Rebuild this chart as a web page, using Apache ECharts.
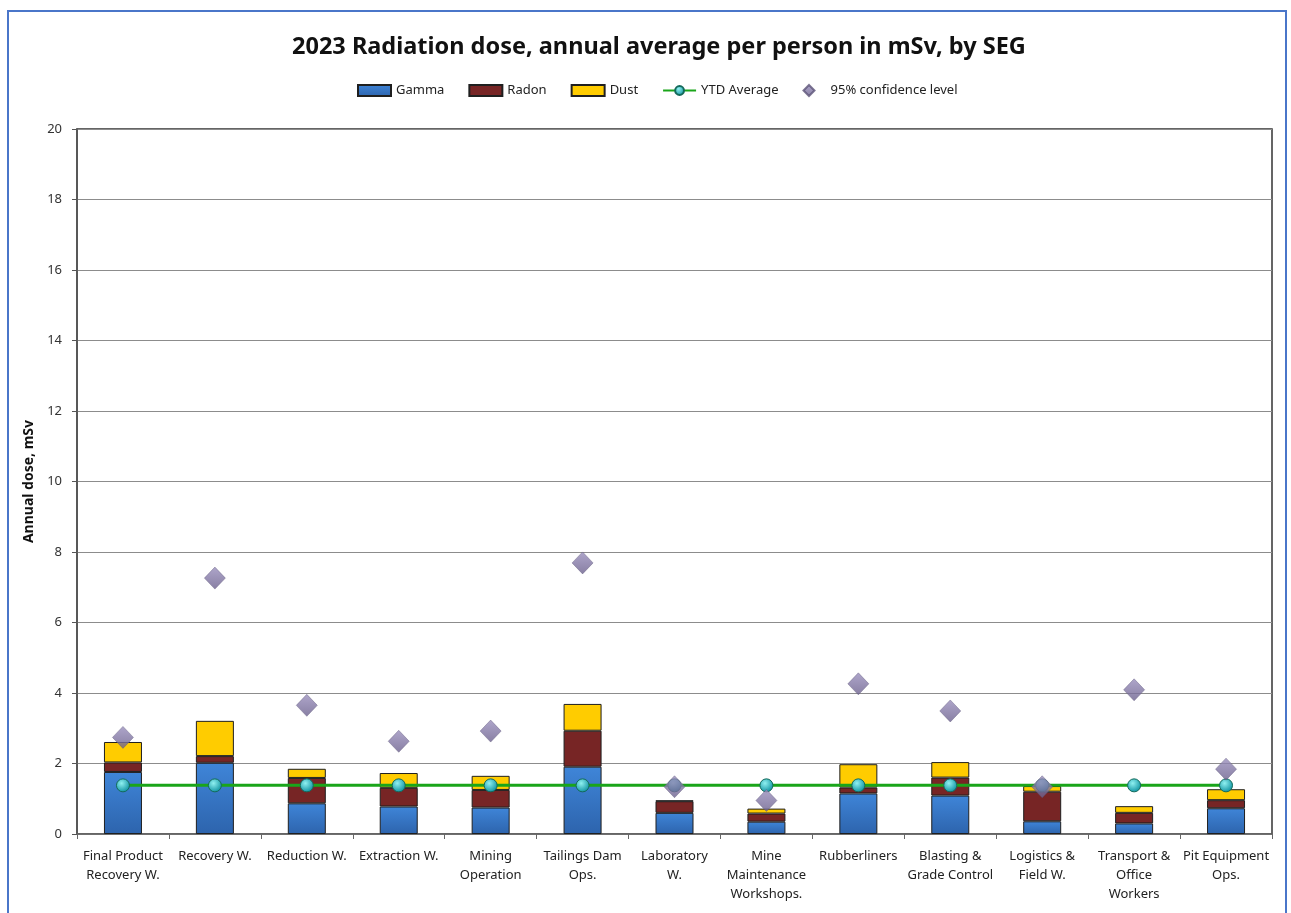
<!DOCTYPE html>
<html><head><meta charset="utf-8">
<script src="https://cdn.jsdelivr.net/npm/echarts@6/dist/echarts.min.js"></script>
<style>
html,body{margin:0;padding:0;background:#fff;}
#frame{position:absolute;left:7px;top:10px;width:1280px;height:910px;border:2.5px solid #4a76c9;box-sizing:border-box;}
#chart{position:absolute;left:0;top:0;width:1291px;height:913px;}
</style></head><body>
<div id="frame"></div>
<div id="chart"></div>
<script>
const categories = ["Final Product\nRecovery W.","Recovery W.","Reduction W.","Extraction W.","Mining\nOperation","Tailings Dam\nOps.","Laboratory\nW.","Mine\nMaintenance\nWorkshops.","Rubberliners","Blasting &\nGrade Control","Logistics &\nField W.","Transport &\nOffice\nWorkers","Pit Equipment\nOps."];
const gamma = [1.76,2.02,0.87,0.78,0.75,1.91,0.60,0.35,1.15,1.09,0.36,0.30,0.73];
const radon = [0.27,0.19,0.72,0.53,0.50,1.02,0.33,0.23,0.17,0.51,0.84,0.30,0.23];
const dust  = [0.58,1.00,0.26,0.42,0.40,0.76,0.02,0.14,0.66,0.44,0.16,0.19,0.31];
const ytdAverage = [1.38,1.38,1.38,1.38,1.38,1.38,1.38,1.38,1.38,1.38,1.38,1.38,1.38];
const confidence95 = [2.74,7.26,3.65,2.63,2.92,7.69,1.34,0.95,4.26,3.49,1.34,4.09,1.84];

const chart = echarts.init(document.getElementById('chart'), null, {renderer:'canvas'});
const FONT = '"Noto Sans",sans-serif';
const barBorder = {borderColor:'#1f1f1f', borderWidth:1};
const diamondGrad = new echarts.graphic.LinearGradient(0,0,0,1,[{offset:0,color:'#9a8fbd'},{offset:1,color:'#6a5f8c'}]);
chart.setOption({
  animation:false,
  backgroundColor:'transparent',
  title:{text:'2023 Radiation dose, annual average per person in mSv, by SEG', left:287, top:30,
    textStyle:{fontFamily:FONT, fontWeight:'bold', fontSize:23.5, color:'#111'}},
  legend:{top:79, left:352, itemGap:24, itemWidth:33, itemHeight:11, symbolKeepAspect:true,
    textStyle:{fontFamily:FONT, fontSize:13, color:'#222'},
    data:[{name:'Gamma',icon:'rect'},{name:'Radon',icon:'rect'},{name:'Dust',icon:'rect'},{name:'YTD Average'},
      {name:'95% confidence level',icon:'path://M0,-1L1,0L0,1L-1,0Z'}]},
  grid:{left:77, right:19, top:129, bottom:79, show:true, borderColor:'#333', borderWidth:1.5, backgroundColor:'#fff'},
  xAxis:{type:'category', data:categories,
    axisLine:{lineStyle:{color:'#666', width:1.5}},
    axisTick:{show:true, alignWithLabel:false, length:5, lineStyle:{color:'#666'}},
    axisLabel:{interval:0, fontFamily:FONT, fontSize:13, color:'#222', lineHeight:19, margin:13}},
  yAxis:{type:'value', min:0, max:20, interval:2, name:'Annual dose, mSv', nameLocation:'middle', nameGap:40,
    nameTextStyle:{fontFamily:FONT, fontWeight:'bold', fontSize:14, color:'#111'},
    axisLine:{show:true, lineStyle:{color:'#555', width:1.5}},
    axisTick:{show:true, length:5, lineStyle:{color:'#555'}},
    axisLabel:{fontFamily:FONT, fontSize:13, color:'#333', margin:15},
    splitLine:{show:true, lineStyle:{color:'#8c8c8c', width:1.2}}},
  series:[
    {name:'Gamma', type:'bar', stack:'dose', barWidth:38, data:gamma,
      itemStyle:Object.assign({color:new echarts.graphic.LinearGradient(0,0,0,1,[{offset:0,color:'#3f85d8'},{offset:1,color:'#2d64ad'}])},barBorder)},
    {name:'Radon', type:'bar', stack:'dose', data:radon, itemStyle:Object.assign({color:'#772525'},barBorder)},
    {name:'Dust', type:'bar', stack:'dose', data:dust, itemStyle:Object.assign({color:'#ffcc00'},barBorder)},
    {name:'YTD Average', type:'line', data:ytdAverage, symbol:'circle', symbolSize:13, z:5,
      lineStyle:{color:'#1aa51a', width:3},
      itemStyle:{color:new echarts.graphic.RadialGradient(0.4,0.35,0.6,[{offset:0,color:'#8ff0f0'},{offset:1,color:'#1a9aa8'}]), borderColor:'#146a5a', borderWidth:1}},
    {name:'95% confidence level', type:'scatter', data:confidence95, symbol:'diamond', symbolSize:[21,22], z:6,
      itemStyle:{color:diamondGrad, borderColor:'#5c5478', borderWidth:0.5}}
  ]
});
</script></body></html>
